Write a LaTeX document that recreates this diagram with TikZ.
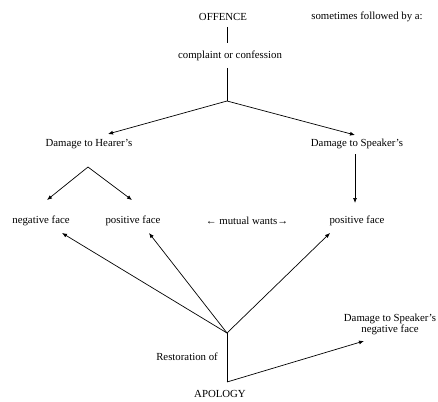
\documentclass[tikz,border=0pt]{standalone}
\usepackage{fontspec}
\setmainfont{Liberation Serif}
\usetikzlibrary{arrows.meta}
\begin{document}
\begin{tikzpicture}[x=1pt,y=-1pt,
  lbl/.style={font=\fontsize{10.8}{13}\selectfont, inner sep=1pt, align=center},
  ln/.style={line width=0.7pt},
  arr/.style={line width=0.7pt,-{Latex[length=5pt,width=4pt]}}]
\useasboundingbox (0,0) rectangle (438,401);
\node[lbl] (off) at (223,17) {OFFENCE};
\node[lbl] (sfb) at (367,17) {sometimes followed by a:};
\node[lbl] (cc) at (230,56) {complaint or confession};
\node[lbl] (dh) at (89,144) {Damage to Hearer’s};
\node[lbl] (ds) at (357,144) {Damage to Speaker’s};
\node[lbl] (nf) at (41,221) {negative face};
\node[lbl] (pf) at (133,221) {positive face};
\node[lbl] (mw) at (247,221) {← mutual wants→};
\node[lbl] (spf) at (357,221) {positive face};
\node[lbl] (dsn) at (390,324) {Damage to Speaker’s\\[-2pt]negative face};
\node[lbl] (rest) at (187,357) {Restoration of};
\node[lbl] (apo) at (220,394) {APOLOGY};
\coordinate (j1) at (227,101);
\coordinate (hf) at (88,167);
\coordinate (j2) at (227,333);
\coordinate (j3) at (227,382);
\coordinate (t1) at (108,134);
\coordinate (t2) at (355,135);
\coordinate (t3) at (47,200);
\coordinate (t4) at (132,200);
\coordinate (t5) at (62,233);
\coordinate (t6) at (149,233);
\coordinate (t7) at (330,233);
\coordinate (t8) at (364,341);
\draw[ln] (227,27) -- (227,43);
\draw[ln] (227,68) -- (j1);
\draw[arr] (j1) -- (t1);
\draw[arr] (j1) -- (t2);
\draw[arr] (hf) -- (t3);
\draw[arr] (hf) -- (t4);
\draw[arr] (355,154) -- (355,203);
\draw[arr] (j2) -- (t5);
\draw[arr] (j2) -- (t6);
\draw[arr] (j2) -- (t7);
\draw[ln] (j2) -- (j3);
\draw[arr] (j3) -- (t8);
\end{tikzpicture}
\end{document}
